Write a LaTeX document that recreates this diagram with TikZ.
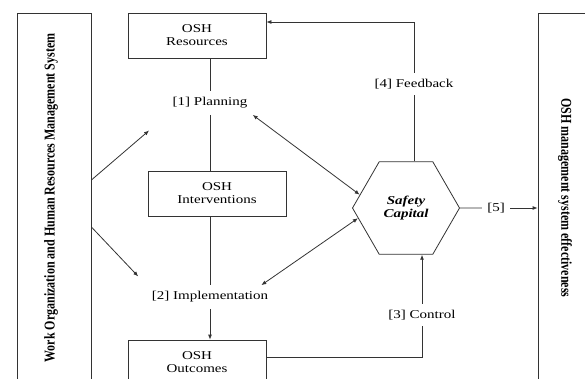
\documentclass[tikz,border=0pt]{standalone}
\usepackage{fontspec}
\setmainfont{Liberation Serif}[FakeStretch=1.25]
\newfontfamily\sidefont{Liberation Serif}
\usetikzlibrary{shapes.geometric}
\usetikzlibrary{arrows.meta}

\begin{document}
\begin{tikzpicture}[x=1pt, y=-1pt, line width=.8pt, draw=black!80, >={Latex[length=5pt,width=4pt]},
  box/.style={draw, minimum width=138pt, minimum height=45pt, inner sep=0pt, align=center, font=\fontsize{12}{13}\selectfont},
  lbl/.style={inner xsep=5pt, inner ysep=6pt, font=\fontsize{12}{13}\selectfont},
  side/.style={draw, minimum width=74pt, minimum height=370pt},
  sidetext/.style={xscale=1.25, font=\sidefont\bfseries\fontsize{12}{13}\selectfont},
  hex/.style={draw, regular polygon, regular polygon sides=6, minimum size=107pt, inner sep=0pt, align=center, font=\bfseries\itshape\fontsize{12}{13}\selectfont}]
  \useasboundingbox (0,0) rectangle (585,378);

  % the two side boxes
  \node[side] (wohr) at (54,198) {};
  \node[sidetext, rotate=90] (wohrtext) at (51,198) {Work Organization and Human Resources Management System};
  \node[side] (eff) at (575,198) {};
  \node[sidetext, rotate=-90] (efftext) at (565,198) {OSH management system effectiveness};

  % boxes and labels
  \node[box] (res) at (197,35.5) {OSH\\Resources};
  \node[box] (int) at (217,193.5) {OSH\\Interventions};
  \node[box] (out) at (197,362.5) {OSH\\Outcomes};
  \node[lbl] (plan) at (210,103) {[1] Planning};
  \node[lbl] (impl) at (210,297) {[2] Implementation};
  \node[lbl] (ctrl) at (422,315) {[3] Control};
  \node[lbl] (fb) at (414,84) {[4] Feedback};
  \node[lbl] (five) at (496,208) {[5]};
  \node[hex] (safety) at (406,208) {Safety\\Capital};

  \coordinate (w1) at ([yshift=18pt]wohr.east);
  \coordinate (w2) at ([yshift=-29pt]wohr.east);
  \coordinate (o1) at ([yshift=5pt]out.east);

  % connectors
  \draw (res.south -| plan) -- (plan);
  \draw (plan) -- (int.north -| plan);
  \draw (int.south -| impl) -- (impl);
  \draw[->] (impl) -- (out.north -| impl);
  \draw (o1) -| (ctrl);
  \draw[->] (ctrl) -- (ctrl |- safety.south);
  \draw (safety.north -| fb) -- (fb);
  \draw[->] (fb) |- ([yshift=13.5pt]res.east);
  \draw (safety) -- (five);
  \draw[->] (five) -- (eff.west |- five);
  \draw[->, shorten >=24pt] (w1) -- (plan.south west);
  \draw[->, shorten >=12pt] (w2) -- (impl.north west);
  \draw[<->] (plan.south east) -- (safety.164);
  \draw[<->] (impl.13.5) -- (safety.192);
\end{tikzpicture}
\end{document}
